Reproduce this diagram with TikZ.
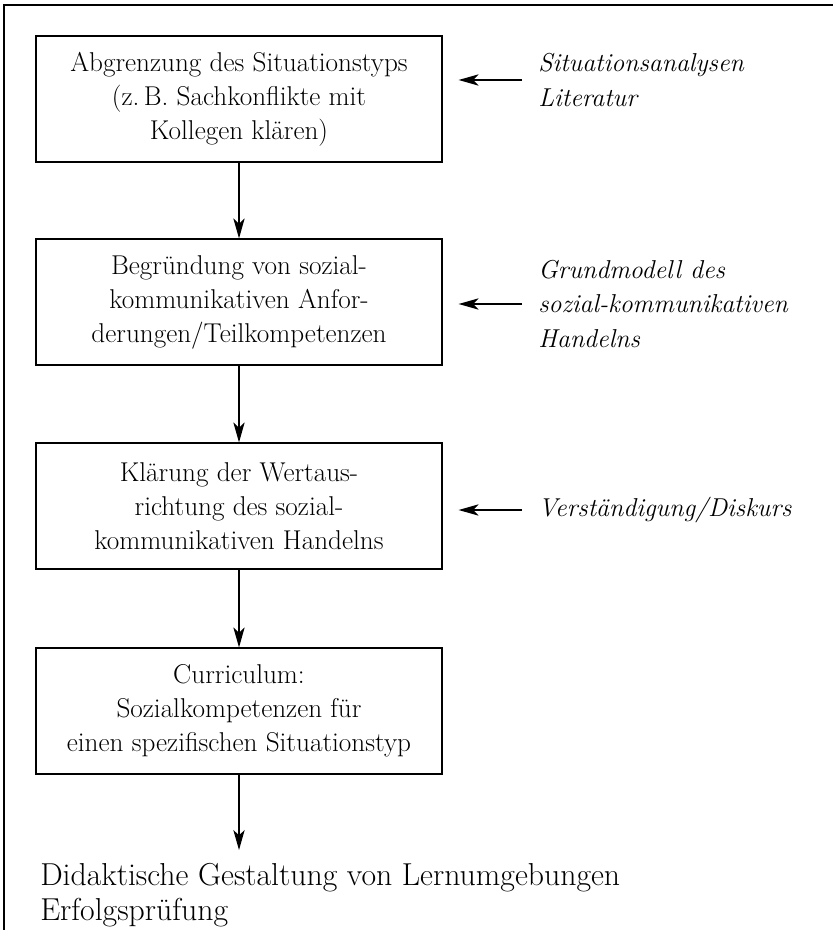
\documentclass[tikz,border=0pt]{standalone}
\usetikzlibrary{arrows.meta}
\begin{document}
\begin{tikzpicture}[x=0.75pt,y=-0.75pt,
 box/.style={draw,line width=0.9pt,minimum width=304.5pt,minimum height=94.5pt,inner sep=0pt,align=center,font=\fontsize{20.4}{25.5}\selectfont},
 side/.style={anchor=west,align=left,inner sep=0pt,font=\fontsize{19.4}{26}\selectfont\itshape},
 arr/.style={-{Stealth[length=15pt,width=8.5pt,inset=4pt]},line width=0.9pt}]
\useasboundingbox (0,0) rectangle (833,930);
\draw[line width=1.4pt] (4,930) -- (4,5) -- (833,5);
\node[box] (b1) at (239,99) {Abgrenzung des Situationstyps\\(z.\,B. Sachkonflikte mit\\Kollegen klären)};
\node[box] (b2) at (239,302) {Begründung von sozial-\\kommunikativen Anfor-\\derungen/Teilkompetenzen};
\node[box] (b3) at (239,506) {Klärung der Wertaus-\\richtung des sozial-\\kommunikativen Handelns};
\node[box] (b4) at (239,711) {Curriculum:\\Sozialkompetenzen für\\einen spezifischen Situationstyp};
\node[anchor=base west,align=left,inner sep=0pt,font=\fontsize{23.8}{26.25}\selectfont] (out) at (40,920) {Didaktische Gestaltung von Lernumgebungen\\Erfolgsprüfung};
\coordinate (outtop) at (239,850);
\node[side] (s1) at (538,80) {Situationsanalysen\\Literatur};
\node[side] (s2) at (538,304) {Grundmodell des\\sozial-kommunikativen\\Handelns};
\node[side] (s3) at (538,510) {Verständigung/Diskurs};
\draw[arr] (b1) -- (b2);
\draw[arr] (b2) -- (b3);
\draw[arr] (b3) -- (b4);
\draw[arr] (b4) -- (outtop);
\draw[arr,shorten <=12pt,shorten >=12pt] (s1.west) -- (s1.west -| b1.east);
\draw[arr,shorten <=12pt,shorten >=12pt] (s2.west) -- (s2.west -| b2.east);
\draw[arr,shorten <=12pt,shorten >=12pt] (s3.west) -- (s3.west -| b3.east);
\end{tikzpicture}
\end{document}
